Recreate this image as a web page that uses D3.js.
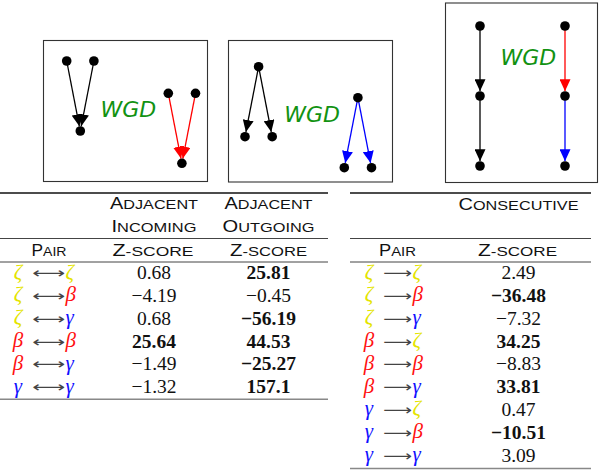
<!DOCTYPE html>
<html><head><meta charset="utf-8">
<script src="https://cdn.jsdelivr.net/npm/d3@7"></script>
<style>html,body{margin:0;padding:0;background:#fff;} svg{display:block;}</style>
</head><body><svg id="c" width="600" height="470"></svg>
<script>
// ---------------- data ----------------
const adjPairs = [["ζ","ζ"],["ζ","β"],["ζ","γ"],["β","β"],["β","γ"],["γ","γ"]];
const adjIncoming = [0.68, -4.19, 0.68, 25.64, -1.49, -1.32];
const adjIncomingBold = [false, false, false, true, false, false];
const adjOutgoing = [25.81, -0.45, -56.19, 44.53, -25.27, 157.1];
const adjOutgoingBold = [true, false, true, true, true, true];

const consPairs = [["ζ","ζ"],["ζ","β"],["ζ","γ"],["β","ζ"],["β","β"],["β","γ"],["γ","ζ"],["γ","β"],["γ","γ"]];
const consValues = [2.49, -36.48, -7.32, 34.25, -8.83, 33.81, 0.47, -10.51, 3.09];
const consBold = [false, true, false, true, false, true, false, true, false];

const adjHeader1 = ["Adjacent", "Adjacent"];
const adjHeader2 = ["Incoming", "Outgoing"];
const consHeader = "Consecutive";
const pairLabel = "Pair";
const scoreLabel = "Z-score";
const diagramLabel = "WGD";

// diagram structure in grid units (gx = half sibling spacing, gy = level)
const incomingNodes = [[0,0],[2,0],[1,1]];
const incomingEdges = [[0,2],[1,2]];
const outgoingNodes = [[1,0],[0,1],[2,1]];
const outgoingEdges = [[0,1],[0,2]];
const chainNodes = [[0,0],[0,1],[0,2]];
const chainEdges = [[0,1],[1,2]];

// ---------------- styles / layout ----------------
const symColor = {"ζ":"#e4e400","β":"#ff1010","γ":"#1010ff"};
const edgeColor = {black:"#000", red:"#ff0000", blue:"#0000ff"};
const svg = d3.select("#c");

const gxScale = d3.scaleLinear().domain([0,1]).range([0,13.6]);
const gyScale = d3.scaleLinear().domain([0,1]).range([0,70]);

const panels = [
  {box:[43,40,164,141], label:[128.3,116.5], groups:[
    {origin:[66.7,61], nodes:incomingNodes, edges:incomingEdges, colors:["black","black"]},
    {origin:[168.3,93.3], nodes:incomingNodes, edges:incomingEdges, colors:["red","red"]}]},
  {box:[228,40,164,141.5], label:[312.2,122], groups:[
    {origin:[245,66.7], nodes:outgoingNodes, edges:outgoingEdges, colors:["black","black"]},
    {origin:[344.3,97.7], nodes:outgoingNodes, edges:outgoingEdges, colors:["blue","blue"]}]},
  {box:[445,2.5,152,179.5], label:[528.3,65], groups:[
    {origin:[480,26], nodes:chainNodes, edges:chainEdges, colors:["black","black"]},
    {origin:[565,26], nodes:chainNodes, edges:chainEdges, colors:["red","blue"]}]}
];

// markers
const defs = svg.append("defs");
Object.entries(edgeColor).forEach(([k,c]) => {
  defs.append("marker").attr("id","arr-"+k)
    .attr("markerUnits","userSpaceOnUse")
    .attr("markerWidth",12).attr("markerHeight",11)
    .attr("refX",12).attr("refY",5.5).attr("orient","auto")
    .append("path").attr("d","M0,0 L12,5.5 L0,11 Z").attr("fill",c);
});

const R = 4.8;
panels.forEach(p => {
  const g = svg.append("g");
  g.append("rect").attr("x",p.box[0]+0.5).attr("y",p.box[1]+0.5)
    .attr("width",p.box[2]).attr("height",p.box[3])
    .attr("fill","none").attr("stroke","#333").attr("stroke-width",1.1);
  p.groups.forEach(gr => {
    const pos = gr.nodes.map(n => [gr.origin[0]+gxScale(n[0]), gr.origin[1]+gyScale(n[1])]);
    gr.edges.forEach((e,i) => {
      const s = pos[e[0]], t = pos[e[1]];
      const dx = t[0]-s[0], dy = t[1]-s[1], L = Math.hypot(dx,dy);
      g.append("line").attr("x1",s[0]).attr("y1",s[1])
        .attr("x2",t[0]-dx/L*R).attr("y2",t[1]-dy/L*R)
        .attr("stroke",edgeColor[gr.colors[i]]).attr("stroke-width",1.3)
        .attr("marker-end","url(#arr-"+gr.colors[i]+")");
    });
    g.selectAll(null).data(pos).enter().append("circle")
      .attr("cx",d=>d[0]).attr("cy",d=>d[1]).attr("r",R).attr("fill","#000");
  });
  g.append("text").attr("x",p.label[0]).attr("y",p.label[1])
    .attr("text-anchor","middle").attr("font-family","DejaVu Sans, sans-serif")
    .attr("font-style","oblique").attr("font-size",22).attr("fill","#129212")
    .text(diagramLabel);
});

// ---------------- tables ----------------
function smallCaps(x, y, str, width) {
  const t = svg.append("text").attr("x",x).attr("y",y).attr("text-anchor","middle")
    .attr("font-family","Liberation Sans, Arial, sans-serif").attr("fill","#111");
  for (const ch of str) {
    const big = ch !== ch.toLowerCase();
    t.append("tspan").attr("font-size", big ? 16 : 13).text(ch.toUpperCase());
  }
  if (width) t.attr("textLength",width).attr("lengthAdjust","spacingAndGlyphs");
  return t;
}
function rule(x1,x2,y,color,w){
  svg.append("line").attr("x1",x1).attr("x2",x2).attr("y1",y).attr("y2",y)
    .attr("stroke",color).attr("stroke-width",w);
}
const fmt = v => (v<0 ? "\u2212" : "") + Math.abs(v);

function pairCell(y, pair, leftX, arrowX1, arrowX2, arrowChar) {
  svg.append("text").attr("x",leftX).attr("y",y+6).attr("text-anchor","middle")
    .attr("font-family","Liberation Serif, serif").attr("font-style","italic")
    .attr("font-size",21).attr("fill",symColor[pair[0]]).text(pair[0]);
  svg.append("text").attr("x",arrowX1).attr("y",y+5.5)
    .attr("font-family","DejaVu Sans, sans-serif").attr("font-size",15).attr("fill","#444")
    .attr("textLength",arrowX2-arrowX1).attr("lengthAdjust","spacingAndGlyphs").text(arrowChar);
  svg.append("text").attr("x",arrowX2+0.5).attr("y",y+6)
    .attr("font-family","Liberation Serif, serif").attr("font-style","italic")
    .attr("font-size",21).attr("fill",symColor[pair[1]]).text(pair[1]);
}
function numCell(x, y, v, bold) {
  svg.append("text").attr("x",x).attr("y",y+6.5).attr("text-anchor","middle")
    .attr("font-family","Liberation Serif, serif").attr("font-size",19.5)
    .attr("font-weight", bold ? "bold" : "normal").attr("fill","#111").text(fmt(v));
}

// left table
const yL = d3.scaleBand().domain(d3.range(adjPairs.length)).range([261.2, 261.2+22.8*adjPairs.length]);
const colL = [49, 154, 268.5];
rule(0,328,193,"#111",1.3);
smallCaps(colL[1],208.5,adjHeader1[0],88);
smallCaps(colL[2],208.5,adjHeader1[1],88);
smallCaps(colL[1],231.5,adjHeader2[0],85);
smallCaps(colL[2],231.5,adjHeader2[1],92);
rule(0,328,238.5,"#444",1);
smallCaps(colL[0],255.5,pairLabel,35);
smallCaps(colL[1]-1,255.5,scoreLabel,81);
smallCaps(colL[2],255.5,scoreLabel,77);
rule(0,328,262,"#444",1);
adjPairs.forEach((p,i) => {
  const cy = yL(i) + yL.bandwidth()/2;
  pairCell(cy, p, 18, 32, 65, "\u27F7");
  numCell(colL[1], cy, adjIncoming[i], adjIncomingBold[i]);
  numCell(colL[2], cy, adjOutgoing[i], adjOutgoingBold[i]);
});
rule(0,328,399.3,"#888",1.5);

// right table
const yR = d3.scaleBand().domain(d3.range(consPairs.length)).range([261.2, 261.2+22.8*consPairs.length]);
const colR = [397.5, 518.5];
rule(350,591,193,"#111",1.3);
smallCaps(colR[1],210,consHeader,120);
rule(350,591,238.5,"#444",1);
smallCaps(colR[0],255.5,pairLabel,37);
smallCaps(colR[1]-1,255.5,scoreLabel,79);
rule(350,591,262,"#444",1);
consPairs.forEach((p,i) => {
  const cy = yR(i) + yR.bandwidth()/2;
  pairCell(cy, p, 369, 383, 412, "\u27F6");
  numCell(colR[1], cy, consValues[i], consBold[i]);
});
rule(350,591,468.5,"#888",1.5);
</script></body></html>
